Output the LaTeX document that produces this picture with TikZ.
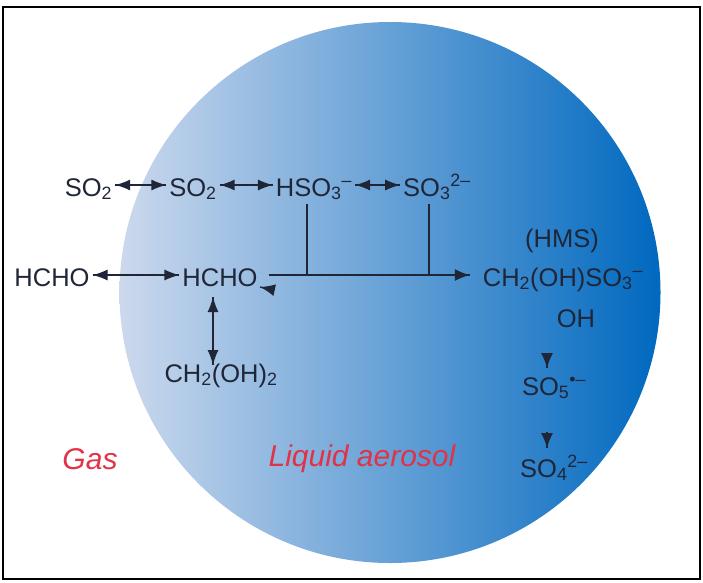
\documentclass[tikz,border=0pt]{standalone}
\usepackage{fontspec}
\setmainfont{Liberation Sans}
\usetikzlibrary{arrows.meta}
\usetikzlibrary{decorations.markings}
\definecolor{mink}{rgb}{0.12, 0.15, 0.22}
\definecolor{mred}{rgb}{0.88, 0.20, 0.28}
\definecolor{mlight}{rgb}{0.80, 0.85, 0.93}
\definecolor{mblue}{rgb}{0.0, 0.41, 0.75}
\tikzset{both/.style = {decoration={markings,
                                    mark=at position 0 with {\arrowreversed{Latex[length=15pt, width=11pt]}},
                                    mark=at position 1 with {\arrow{Latex[length=15pt, width=11pt]}}},
                        postaction={decorate}}}
\tikzset{one/.style = {decoration={markings,
                                   mark=at position 1 with {\arrow{Latex[length=15pt, width=12pt]}}},
                       postaction={decorate}}}
\tikzset{chem/.style = {font=\fontsize{25.5}{25.5}\selectfont, text=mink, inner sep=1pt, outer sep=2pt,
                        text height=22pt, text depth=0pt}}
\tikzset{place/.style = {font=\fontsize{30}{30}\selectfont\itshape, text=mred, inner sep=1pt}}
\tikzset{link/.style = {draw=mink, line width=1.3pt}}
\newcommand{\sub}[1]{\textsubscript{#1}}
\newcommand{\sups}[1]{\textsuperscript{#1}}

\begin{document}
\begin{tikzpicture}[x=1pt, y=-1pt]
    \useasboundingbox (0, 0) rectangle (703, 582);
    \draw [line width=2.5pt] (3, 7) rectangle (700, 579);
    \shade [left color=mlight, right color=mblue] (390, 292.5) circle (270.5);

    \node [chem] (so2gas) at (88.5, 185) {SO\sub{2}};
    \node [chem] (so2liq) at (193, 185) {SO\sub{2}};
    \node [chem] (hso3) at (314, 185) {HSO\sub{3}\sups{--}};
    \node [chem] (so3) at (437, 185) {SO\sub{3}\sups{2--}};

    \node [chem] (hchogas) at (52, 275) {HCHO};
    \node [chem] (hcholiq) at (220, 275) {HCHO};
    \node [chem] (diol) at (221, 371) {CH\sub{2}(OH)\sub{2}};

    \node [chem] (hms) at (562, 236) {(HMS)};
    \node [chem] (prod) at (563, 275) {CH\sub{2}(OH)SO\sub{3}\sups{--}};
    \node [chem] (oh) at (576, 316) {OH};
    \node [chem] (so5) at (554, 384) {SO\sub{5}\sups{•--}};
    \node [chem] (so4) at (554, 466) {SO\sub{4}\sups{2--}};

    \node [place] (gas) at (90, 459) {Gas};
    \node [place] (liq) at (362, 459) {Liquid aerosol};

    \draw [link, both] (so2gas) -- (so2liq);
    \draw [link, both] (so2liq) -- (hso3);
    \draw [link, both] (hso3) -- (so3);
    \draw [link, both] (hchogas) -- (hcholiq);
    \draw [link, both] ([shift={(-7pt, -8pt)}]hcholiq.south) -- ([shift={(-8pt, -8pt)}]diol.north);
    \draw [link, one, line width=1.8pt] ([xshift=8pt]hcholiq.east) -- ([xshift=-10pt]prod.west);

    \coordinate (joinA) at (307, 276);
    \coordinate (joinB) at (429, 276);
    \draw [link] ([shift={(-7pt, -5pt)}]hso3.south) -- (joinA);
    \draw [link] ([shift={(-8pt, -5pt)}]so3.south) -- (joinB);

    % small heads standing alone
    \coordinate (backtail) at (274, 290);
    \coordinate (backhead) at (260, 287);
    \draw [link, one] (backtail) -- (backhead);
    \coordinate (downA) at (547, 353);
    \coordinate (downAend) at (547, 368);
    \draw [link, one] (downA) -- (downAend);
    \coordinate (downB) at (547, 432);
    \coordinate (downBend) at (547, 448);
    \draw [link, one] (downB) -- (downBend);
\end{tikzpicture}
\end{document}
